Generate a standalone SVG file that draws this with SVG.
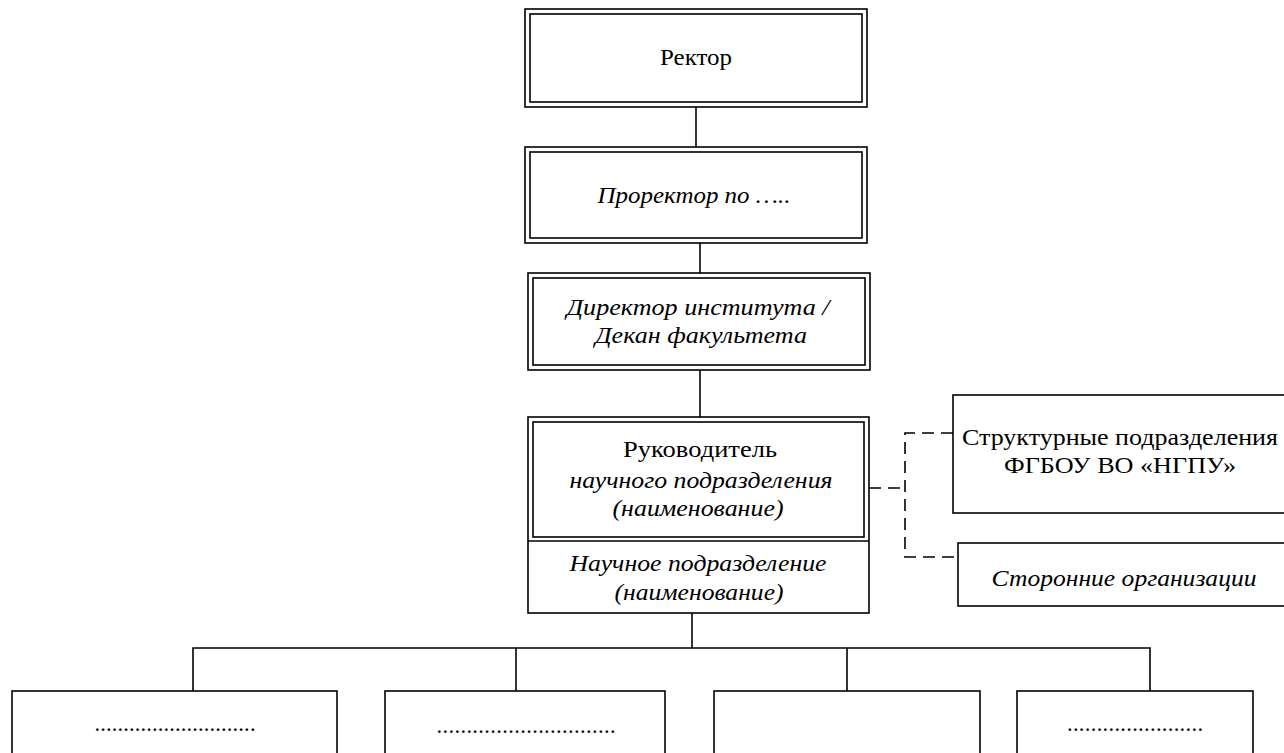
<svg xmlns="http://www.w3.org/2000/svg" width="1284" height="753" viewBox="0 0 1284 753">
<style>
.b{fill:#fff;stroke:#000;stroke-width:1.6}
.n{fill:none;stroke:#000;stroke-width:1.6}
.t{font-family:"Liberation Serif","Times New Roman",serif;font-size:22.5px;fill:#000;text-anchor:middle}
.i{font-style:italic}
.c{fill:none;stroke:#000;stroke-width:1.6}
.d{fill:none;stroke:#000;stroke-width:1.6;stroke-dasharray:12,7}
</style>
<rect width="1284" height="753" fill="#fff"/>
<g id="connectors">
<line class="c" x1="696" y1="107" x2="696" y2="147"/>
<line class="c" x1="700" y1="243" x2="700" y2="273"/>
<line class="c" x1="700" y1="370" x2="700" y2="417"/>
<line class="c" x1="692" y1="613" x2="692" y2="648"/>
<polyline class="c" points="193,691 193,648 1150,648 1150,691"/>
<line class="c" x1="516" y1="648" x2="516" y2="691"/>
<line class="c" x1="847" y1="648" x2="847" y2="691"/>
<line class="d" x1="869" y1="488" x2="905" y2="488"/>
<polyline class="d" points="953,433 905,433 905,557 958,557"/>
</g>
<g id="rektor">
<rect class="b" x="525" y="9" width="342" height="98"/>
<rect class="n" x="530" y="14" width="332" height="88"/>
<text class="t" x="696" y="65" textLength="72" lengthAdjust="spacingAndGlyphs">Ректор</text>
</g>
<g id="prorektor">
<rect class="b" x="525" y="147" width="342" height="96"/>
<rect class="n" x="530" y="152" width="332" height="86"/>
<text class="t i" x="694" y="203" textLength="193" lengthAdjust="spacingAndGlyphs">Проректор по …..</text>
</g>
<g id="director">
<rect class="b" x="528" y="273" width="342" height="97"/>
<rect class="n" x="533" y="278" width="332" height="87"/>
<text class="t i" x="698" y="315" textLength="263" lengthAdjust="spacingAndGlyphs">Директор института /</text>
<text class="t i" x="701" y="343" textLength="212" lengthAdjust="spacingAndGlyphs">Декан факультета</text>
</g>
<g id="rukovoditel">
<rect class="b" x="528" y="417" width="341" height="196"/>
<rect class="n" x="533" y="422" width="331" height="115"/>
<line class="n" x1="528" y1="541" x2="869" y2="541"/>
<text class="t" x="700" y="457" textLength="154" lengthAdjust="spacingAndGlyphs">Руководитель</text>
<text class="t i" x="701" y="488" textLength="263" lengthAdjust="spacingAndGlyphs">научного подразделения</text>
<text class="t i" x="698" y="516" textLength="171" lengthAdjust="spacingAndGlyphs">(наименование)</text>
<text class="t i" x="698" y="571" textLength="257" lengthAdjust="spacingAndGlyphs">Научное подразделение</text>
<text class="t i" x="699" y="600" textLength="169" lengthAdjust="spacingAndGlyphs">(наименование)</text>
</g>
<g id="struct">
<rect class="b" x="953" y="395" width="350" height="118"/>
<text class="t" x="1120" y="445" textLength="316" lengthAdjust="spacingAndGlyphs">Структурные подразделения</text>
<text class="t" x="1120" y="473" textLength="232" lengthAdjust="spacingAndGlyphs">ФГБОУ ВО «НГПУ»</text>
</g>
<g id="storonnie">
<rect class="b" x="958" y="543" width="350" height="63"/>
<text class="t i" x="1124" y="586" textLength="265" lengthAdjust="spacingAndGlyphs">Сторонние организации</text>
</g>
<g id="box1">
<rect class="b" x="12" y="691" width="325" height="80"/>
<text class="t" x="175" y="731" textLength="161" lengthAdjust="spacing">............................</text>
</g>
<g id="box2">
<rect class="b" x="385" y="691" width="280" height="80"/>
<text class="t" x="526" y="733" textLength="179" lengthAdjust="spacing">..............................</text>
</g>
<g id="box3">
<rect class="b" x="714" y="691" width="266" height="80"/>
</g>
<g id="box4">
<rect class="b" x="1017" y="691" width="236" height="80"/>
<text class="t" x="1135" y="731" textLength="136" lengthAdjust="spacing">.......................</text>
</g>
</svg>
